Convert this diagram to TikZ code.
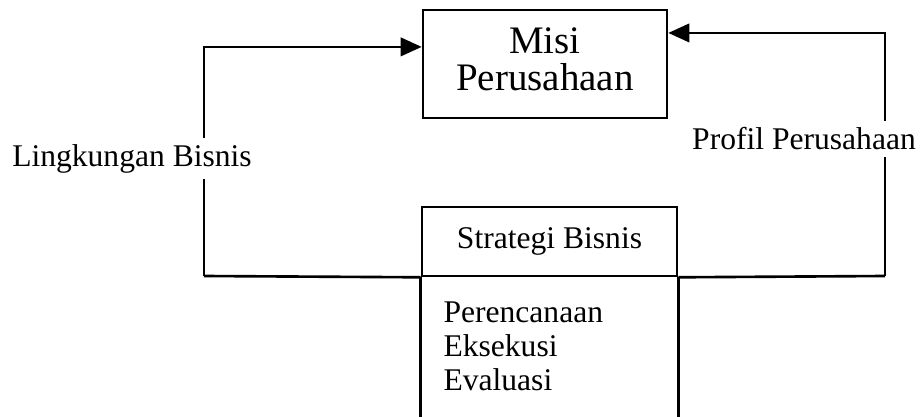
\documentclass[tikz,border=0pt]{standalone}
\usepackage{fontspec}
\setmainfont{Liberation Serif}
\usetikzlibrary{arrows.meta,calc}
\tikzset{
  kotak/.style={draw, line width=1pt, inner sep=0pt},
  garis/.style={line width=1pt},
  panah/.style={line width=1pt, -{Triangle[length=8pt, width=7pt]}},
  teksputih/.style={fill=white, inner sep=2.5pt, anchor=base, font=\fontsize{12}{14}\selectfont}
}

\begin{document}
\begin{tikzpicture}[x=0.38pt, y=-0.38pt]
	%%%%% START %%%%%
	\useasboundingbox (0,0) rectangle (923,416);

	% kotak atas
	\node[kotak, minimum width=92.7pt, minimum height=41pt, align=center, text depth=3.8pt,
	      font=\fontsize{14.8}{14}\selectfont] (misi) at (545,64) {Misi\\Perusahaan};

	% kotak bawah
	\node[kotak, minimum width=96.9pt, minimum height=26.2pt,
	      font=\fontsize{12}{14}\selectfont] (strategi) at (549.5,241.5) {Strategi Bisnis};
	\draw[garis] (strategi.south west) -- ++(0,140);
	\draw[garis] (strategi.south east) -- ++(0,140);
	\node[anchor=north west, inner sep=0pt, align=left,
	      font=\fontsize{12}{13}\selectfont] (langkah) at (443,301) {Perencanaan\\Eksekusi\\Evaluasi};

	% umpan balik
	\coordinate (kiri) at (204,276);
	\coordinate (kanan) at (885,276);
	\draw[garis] (kiri) -- (strategi.south west);
	\draw[garis] (strategi.south east) -- (kanan);
	\draw[panah] (kiri) |- ([yshift=6.5pt]misi.west);
	\draw[panah] (kanan) |- ([yshift=11.8pt]misi.east);

	\node[teksputih] (lingkungan) at (132,166) {Lingkungan Bisnis};
	\node[teksputih] (profil) at (804,150) {Profil Perusahaan};
	%%%%% END %%%%%
\end{tikzpicture}
\end{document}
